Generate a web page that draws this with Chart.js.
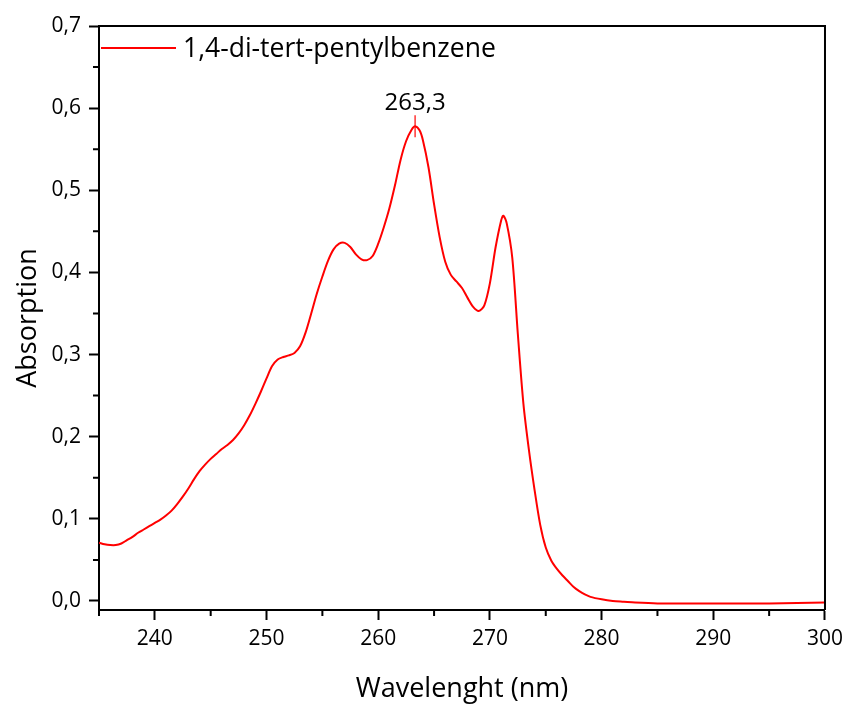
<!DOCTYPE html>
<html>
<head>
<meta charset="utf-8">
<script src="https://cdn.jsdelivr.net/npm/chart.js@4.4.1/dist/chart.umd.min.js"></script>
<style>
  html, body { margin: 0; padding: 0; background: #fff; }
  #wrap { width: 849px; height: 707px; }
</style>
</head>
<body>
<div id="wrap"><canvas id="chart" width="849" height="707"></canvas></div>
<script>
// spectrum
const wavelength = [
  235.0, 235.5, 236.0, 236.5, 237.0, 237.5, 238.0, 238.5, 239.0, 239.5,
  240.0, 240.5, 241.0, 241.5, 242.0, 242.5, 243.0, 243.5, 244.0, 244.5,
  245.0, 245.5, 246.0, 246.5, 247.0, 247.5, 248.0, 248.5, 249.0, 249.5,
  250.0, 250.5, 251.0, 251.5, 252.0, 252.5, 253.0, 253.5, 254.0, 254.5,
  255.0, 255.5, 256.0, 256.5, 257.0, 257.5, 258.0, 258.5, 259.0, 259.5,
  260.0, 260.5, 261.0, 261.5, 262.0, 262.5, 263.0, 263.3, 263.7, 264.0,
  264.5, 265.0, 265.5, 266.0, 266.5, 267.0, 267.5, 268.0, 268.5, 269.0,
  269.5, 270.0, 270.5, 271.0, 271.2, 271.5, 272.0, 272.5, 273.0, 273.5,
  274.0, 274.5, 275.0, 275.5, 276.0, 276.5, 277.0, 277.5, 278.0, 278.5,
  279.0, 280.0, 281.0, 282.0, 283.0, 285.0, 290.0, 295.0, 300.0
];
const absorption = [
  0.071, 0.069, 0.068, 0.068, 0.070, 0.074, 0.078, 0.083, 0.087, 0.091,
  0.095, 0.099, 0.104, 0.110, 0.118, 0.127, 0.137, 0.148, 0.158, 0.166,
  0.173, 0.179, 0.185, 0.190, 0.196, 0.204, 0.214, 0.226, 0.240, 0.255,
  0.271, 0.286, 0.294, 0.297, 0.299, 0.302, 0.310, 0.327, 0.350, 0.374,
  0.395, 0.414, 0.428, 0.435, 0.436, 0.431, 0.422, 0.416, 0.415, 0.420,
  0.435, 0.455, 0.478, 0.506, 0.537, 0.560, 0.574, 0.578, 0.573, 0.561,
  0.528, 0.483, 0.443, 0.413, 0.397, 0.389, 0.381, 0.369, 0.358, 0.353,
  0.360, 0.387, 0.430, 0.463, 0.469, 0.460, 0.418, 0.325, 0.240, 0.183,
  0.135, 0.093, 0.065, 0.049, 0.039, 0.031, 0.024, 0.017, 0.012, 0.008,
  0.005, 0.002, 0.000, -0.001, -0.002, -0.003, -0.003, -0.003, -0.002
];

const seriesLabel = "1,4-di-tert-pentylbenzene";
const peakWavelength = 263.3;
const peakLabel = "263,3";

const xTicks = [240, 250, 260, 270, 280, 290, 300];
const xMinorTicks = [235, 245, 255, 265, 275, 285, 295];
const yTicks = [0, 0.1, 0.2, 0.3, 0.4, 0.5, 0.6, 0.7];
const yMinorTicks = [0.05, 0.15, 0.25, 0.35, 0.45, 0.55, 0.65];

const FONT = "'Open Sans', 'DejaVu Sans', sans-serif";

const points = wavelength.map((w, i) => ({ x: w, y: absorption[i] }));

// box, minor ticks, legend and peak marker
const extras = {
  id: "extras",
  afterDraw(chart) {
    const { ctx, chartArea, scales } = chart;
    const x = scales.x, y = scales.y;
    ctx.save();
    ctx.strokeStyle = "#000";
    ctx.lineWidth = 2;
    ctx.beginPath();
    ctx.moveTo(chartArea.left, chartArea.top);
    ctx.lineTo(chartArea.right, chartArea.top);
    ctx.lineTo(chartArea.right, chartArea.bottom);
    ctx.stroke();

    ctx.beginPath();
    xMinorTicks.forEach(v => {
      const px = x.getPixelForValue(v);
      ctx.moveTo(px, chartArea.bottom);
      ctx.lineTo(px, chartArea.bottom + 6);
    });
    yMinorTicks.forEach(v => {
      const py = y.getPixelForValue(v);
      ctx.moveTo(chartArea.left, py);
      ctx.lineTo(chartArea.left - 6, py);
    });
    ctx.stroke();

    // legend
    const ds = chart.data.datasets[0];
    ctx.strokeStyle = ds.borderColor;
    ctx.lineWidth = 2;
    ctx.beginPath();
    ctx.moveTo(chartArea.left + 2, 48);
    ctx.lineTo(176, 48);
    ctx.stroke();
    ctx.fillStyle = "#000";
    ctx.font = "26.5px " + FONT;
    ctx.textAlign = "left";
    ctx.textBaseline = "middle";
    ctx.fillText(ds.label, 183, 49);

    // peak marker
    const i = wavelength.indexOf(peakWavelength);
    const px = x.getPixelForValue(peakWavelength);
    const py = y.getPixelForValue(absorption[i]);
    ctx.strokeStyle = ds.borderColor;
    ctx.lineWidth = 1.2;
    ctx.beginPath();
    ctx.moveTo(px, py - 11);
    ctx.lineTo(px, py + 11);
    ctx.stroke();
    ctx.font = "24px " + FONT;
    ctx.textAlign = "center";
    ctx.textBaseline = "alphabetic";
    ctx.fillText(peakLabel, px, py - 16);
    ctx.restore();
  }
};

new Chart(document.getElementById("chart"), {
  type: "line",
  data: {
    datasets: [{
      label: seriesLabel,
      data: points,
      borderColor: "#ff0000",
      borderWidth: 2,
      pointRadius: 0,
      fill: false,
      tension: 0.3
    }]
  },
  options: {
    responsive: false,
    animation: false,
    layout: { padding: { top: 26, right: 24, left: 0, bottom: 0 } },
    plugins: { legend: { display: false }, tooltip: { enabled: false } },
    scales: {
      x: {
        type: "linear",
        min: 235,
        max: 300,
        afterBuildTicks: s => { s.ticks = xTicks.map(v => ({ value: v })); },
        afterFit: s => { s.height = 97; },
        border: { color: "#000", width: 2 },
        grid: { drawOnChartArea: false, color: "#000", tickLength: 10, tickWidth: 2 },
        ticks: { color: "#000", padding: 6, maxRotation: 0, font: { family: FONT, size: 21 } },
        title: { display: true, text: "Wavelenght (nm)", color: "#000", padding: { top: 0, bottom: 1 }, font: { family: FONT, size: 27 } }
      },
      y: {
        min: -0.011,
        max: 0.7,
        afterBuildTicks: s => { s.ticks = yTicks.map(v => ({ value: v })); },
        afterFit: s => { s.width = 99; },
        border: { color: "#000", width: 2 },
        grid: { drawOnChartArea: false, color: "#000", tickLength: 10, tickWidth: 2 },
        ticks: {
          color: "#000",
          padding: 8,
          font: { family: FONT, size: 21 },
          callback: v => v.toFixed(1).replace(".", ",")
        },
        title: { display: true, text: "Absorption", color: "#000", padding: { top: 12, bottom: 0 }, font: { family: FONT, size: 27 } }
      }
    }
  },
  plugins: [extras]
});
</script>
</body>
</html>
